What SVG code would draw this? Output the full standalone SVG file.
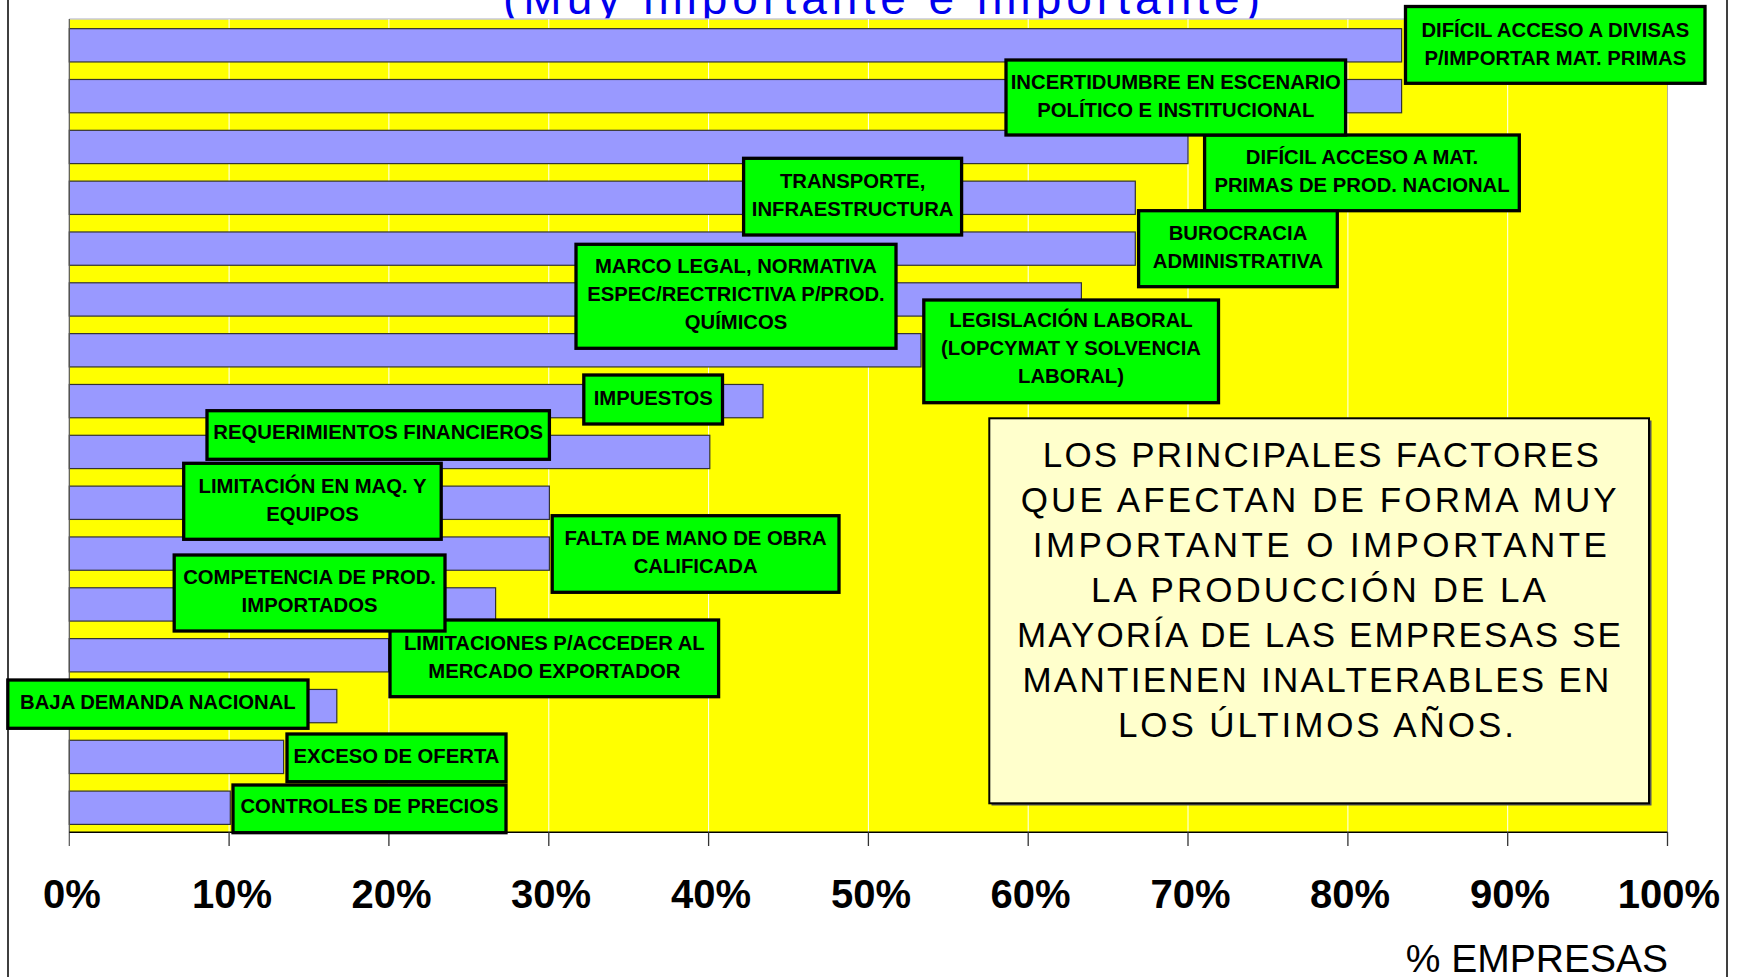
<svg xmlns="http://www.w3.org/2000/svg" width="1741" height="977" viewBox="0 0 1741 977">
<style>
.bar{fill:#9999FF;stroke:#333;stroke-width:1.2}
.grid{stroke:#FFFFFF;stroke-width:1}
.tick{stroke:#333;stroke-width:1.3}
.lbl{fill:#00FF00;stroke:#000;stroke-width:3.3}
.lt{font-family:"Liberation Sans",Arial,sans-serif;font-weight:bold;font-size:20.3px;fill:#000;text-anchor:middle}
.ax{font-family:"Liberation Sans",Arial,sans-serif;font-weight:bold;font-size:40px;fill:#000;text-anchor:middle}
.note{font-family:"Liberation Sans",Arial,sans-serif;font-size:35px;fill:#000;text-anchor:middle}
</style>
<rect x="0" y="0" width="1741" height="977" fill="#FFFFFF"/>
<rect x="8" y="-10" width="1719" height="1000" fill="none" stroke="#000" stroke-width="1.5"/>
<text x="503" y="14" font-family="Liberation Sans, Arial, sans-serif" font-size="46" fill="#0000EE" textLength="757" lengthAdjust="spacing">(Muy importante e importante)</text>
<g id="plot">
<rect x="69.3" y="19" width="1598.2" height="813.3" fill="#FFFF00"/>
<line x1="69.3" y1="19" x2="1667.5" y2="19" stroke="#C8C8D8" stroke-width="1.5"/>
<g id="gridlines">
<line class="grid" x1="229.1" y1="19" x2="229.1" y2="832"/>
<line class="grid" x1="388.9" y1="19" x2="388.9" y2="832"/>
<line class="grid" x1="548.8" y1="19" x2="548.8" y2="832"/>
<line class="grid" x1="708.6" y1="19" x2="708.6" y2="832"/>
<line class="grid" x1="868.4" y1="19" x2="868.4" y2="832"/>
<line class="grid" x1="1028.2" y1="19" x2="1028.2" y2="832"/>
<line class="grid" x1="1188" y1="19" x2="1188" y2="832"/>
<line class="grid" x1="1347.9" y1="19" x2="1347.9" y2="832"/>
<line class="grid" x1="1507.7" y1="19" x2="1507.7" y2="832"/>
</g>
<line x1="1667.5" y1="19" x2="1667.5" y2="832" stroke="#B0B0A0" stroke-width="1"/>
<g id="bars">
<rect class="bar" x="69.3" y="28.65" width="1332.3" height="33.3"/>
<rect class="bar" x="69.3" y="79.48" width="1332.3" height="33.3"/>
<rect class="bar" x="69.3" y="130.31" width="1118.7" height="33.3"/>
<rect class="bar" x="69.3" y="181.14" width="1066" height="33.3"/>
<rect class="bar" x="69.3" y="231.97" width="1066" height="33.3"/>
<rect class="bar" x="69.3" y="282.8" width="1012.1" height="33.3"/>
<rect class="bar" x="69.3" y="333.63" width="851.7" height="33.3"/>
<rect class="bar" x="69.3" y="384.46" width="693.7" height="33.3"/>
<rect class="bar" x="69.3" y="435.29" width="640.5" height="33.3"/>
<rect class="bar" x="69.3" y="486.12" width="480.1" height="33.3"/>
<rect class="bar" x="69.3" y="536.95" width="480.1" height="33.3"/>
<rect class="bar" x="69.3" y="587.78" width="426.3" height="33.3"/>
<rect class="bar" x="69.3" y="638.61" width="319.3" height="33.3"/>
<rect class="bar" x="69.3" y="689.44" width="267.5" height="33.3"/>
<rect class="bar" x="69.3" y="740.27" width="214.3" height="33.3"/>
<rect class="bar" x="69.3" y="791.1" width="161" height="33.3"/>
</g>
<line x1="69.3" y1="19" x2="69.3" y2="846" stroke="#555" stroke-width="1.2"/>
<line x1="69.3" y1="832.3" x2="1667.5" y2="832.3" stroke="#000" stroke-width="1.5"/>
<g id="ticks">
<line class="tick" x1="229.1" y1="832" x2="229.1" y2="846"/>
<line class="tick" x1="388.9" y1="832" x2="388.9" y2="846"/>
<line class="tick" x1="548.8" y1="832" x2="548.8" y2="846"/>
<line class="tick" x1="708.6" y1="832" x2="708.6" y2="846"/>
<line class="tick" x1="868.4" y1="832" x2="868.4" y2="846"/>
<line class="tick" x1="1028.2" y1="832" x2="1028.2" y2="846"/>
<line class="tick" x1="1188" y1="832" x2="1188" y2="846"/>
<line class="tick" x1="1347.9" y1="832" x2="1347.9" y2="846"/>
<line class="tick" x1="1507.7" y1="832" x2="1507.7" y2="846"/>
<line class="tick" x1="1667.5" y1="832" x2="1667.5" y2="846"/>
</g>
</g>
<g id="axis-labels">
<text class="ax" x="72" y="908">0%</text>
<text class="ax" x="232" y="908">10%</text>
<text class="ax" x="391.5" y="908">20%</text>
<text class="ax" x="551" y="908">30%</text>
<text class="ax" x="711" y="908">40%</text>
<text class="ax" x="871" y="908">50%</text>
<text class="ax" x="1030.5" y="908">60%</text>
<text class="ax" x="1190.5" y="908">70%</text>
<text class="ax" x="1350" y="908">80%</text>
<text class="ax" x="1510" y="908">90%</text>
<text class="ax" x="1669" y="908">100%</text>
<text x="1668" y="972" font-family="Liberation Sans, Arial, sans-serif" font-size="39" fill="#000" text-anchor="end">% EMPRESAS</text>
</g>
<g id="n1"><rect class="lbl" x="1405.5" y="6.5" width="299.5" height="76.8"/><text class="lt" x="1555.3" y="36.7">DIFÍCIL ACCESO A DIVISAS</text><text class="lt" x="1555.3" y="64.5">P/IMPORTAR MAT. PRIMAS</text></g>
<g id="n3"><rect class="lbl" x="1204.6" y="135" width="314.7" height="75.7"/><text class="lt" x="1362" y="164">DIFÍCIL ACCESO A MAT.</text><text class="lt" x="1362" y="192.3">PRIMAS DE PROD. NACIONAL</text></g>
<g id="n2"><rect class="lbl" x="1006" y="60" width="339.6" height="75"/><text class="lt" x="1175.8" y="89.3">INCERTIDUMBRE EN ESCENARIO</text><text class="lt" x="1175.8" y="116.7">POLÍTICO E INSTITUCIONAL</text></g>
<g id="n4"><rect class="lbl" x="743.6" y="158.3" width="218" height="76.7"/><text class="lt" x="852.6" y="188.3">TRANSPORTE,</text><text class="lt" x="852.6" y="216">INFRAESTRUCTURA</text></g>
<g id="n5"><rect class="lbl" x="1138.6" y="210.7" width="198.7" height="76"/><text class="lt" x="1238" y="240">BUROCRACIA</text><text class="lt" x="1238" y="267.7">ADMINISTRATIVA</text></g>
<g id="n6"><rect class="lbl" x="576" y="244.3" width="320" height="104"/><text class="lt" x="736" y="273.3">MARCO LEGAL, NORMATIVA</text><text class="lt" x="736" y="301.3">ESPEC/RECTRICTIVA P/PROD.</text><text class="lt" x="736" y="329.3">QUÍMICOS</text></g>
<g id="n7"><rect class="lbl" x="923.8" y="300" width="294.7" height="102.7"/><text class="lt" x="1071" y="327.3">LEGISLACIÓN LABORAL</text><text class="lt" x="1071" y="355.3">(LOPCYMAT Y SOLVENCIA</text><text class="lt" x="1071" y="383">LABORAL)</text></g>
<g id="n8"><rect class="lbl" x="583.8" y="375" width="138.7" height="49"/><text class="lt" x="653.2" y="405">IMPUESTOS</text></g>
<g id="n9"><rect class="lbl" x="207" y="410.7" width="342.4" height="48.6"/><text class="lt" x="378.2" y="439.3">REQUERIMIENTOS FINANCIEROS</text></g>
<g id="n10"><rect class="lbl" x="183.7" y="463.3" width="257.5" height="76"/><text class="lt" x="312.5" y="492.7">LIMITACIÓN EN MAQ. Y</text><text class="lt" x="312.5" y="520.7">EQUIPOS</text></g>
<g id="n11"><rect class="lbl" x="552.2" y="515.7" width="286.8" height="76.6"/><text class="lt" x="695.6" y="545">FALTA DE MANO DE OBRA</text><text class="lt" x="695.6" y="572.7">CALIFICADA</text></g>
<g id="n13"><rect class="lbl" x="390" y="620" width="328.6" height="76.7"/><text class="lt" x="554.3" y="650.3">LIMITACIONES P/ACCEDER AL</text><text class="lt" x="554.3" y="678.3">MERCADO EXPORTADOR</text></g>
<g id="n12"><rect class="lbl" x="174.2" y="555" width="270.8" height="76"/><text class="lt" x="309.6" y="584">COMPETENCIA DE PROD.</text><text class="lt" x="309.6" y="611.7">IMPORTADOS</text></g>
<g id="n14"><rect class="lbl" x="7.8" y="680" width="300.2" height="48.3"/><text class="lt" x="157.9" y="709.3">BAJA DEMANDA NACIONAL</text></g>
<g id="n15"><rect class="lbl" x="287" y="734" width="219" height="47.7"/><text class="lt" x="396.5" y="763.3">EXCESO DE OFERTA</text></g>
<g id="n16"><rect class="lbl" x="233" y="785" width="273" height="47.7"/><text class="lt" x="369.5" y="813.3">CONTROLES DE PRECIOS</text></g>
<g id="note">
<rect x="991.5" y="420.5" width="660" height="385" fill="#555"/>
<rect x="989.3" y="418.3" width="659.7" height="385" fill="#FFFFCC" stroke="#000" stroke-width="2"/>
<text class="note" x="1320.8" y="466.7" textLength="556" lengthAdjust="spacing">LOS PRINCIPALES FACTORES</text>
<text class="note" x="1318.7" y="511.7" textLength="596" lengthAdjust="spacing">QUE AFECTAN DE FORMA MUY</text>
<text class="note" x="1319.8" y="556.7" textLength="574" lengthAdjust="spacing">IMPORTANTE O IMPORTANTE</text>
<text class="note" x="1318.4" y="601.7" textLength="455" lengthAdjust="spacing">LA PRODUCCIÓN DE LA</text>
<text class="note" x="1318.9" y="646.7" textLength="604" lengthAdjust="spacing">MAYORÍA DE LAS EMPRESAS SE</text>
<text class="note" x="1315.9" y="691.7" textLength="587" lengthAdjust="spacing">MANTIENEN INALTERABLES EN</text>
<text class="note" x="1315.9" y="736.7" textLength="396" lengthAdjust="spacing">LOS ÚLTIMOS AÑOS.</text>
</g>
</svg>
